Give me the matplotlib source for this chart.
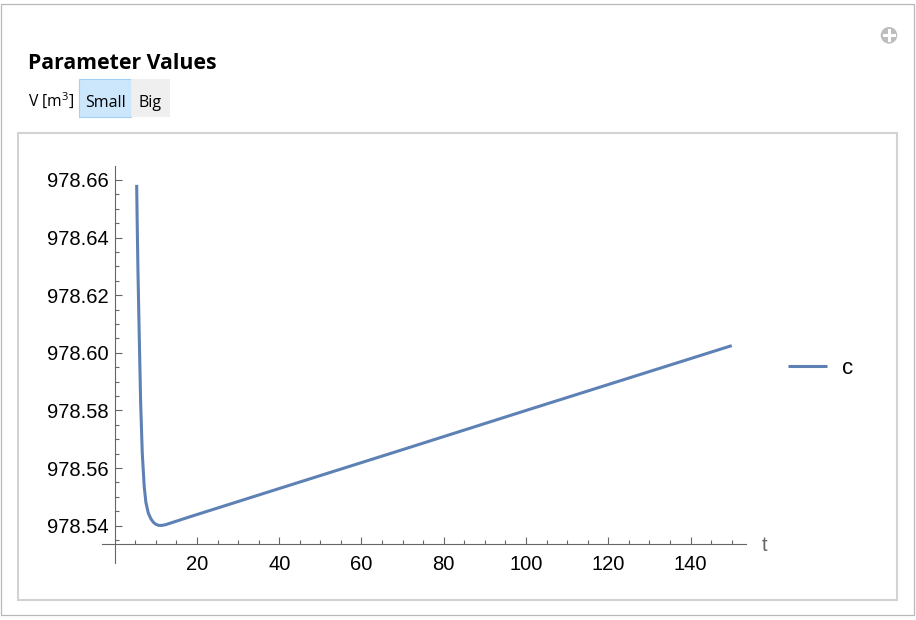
import numpy as np
import matplotlib
matplotlib.use("Agg")
import matplotlib.pyplot as plt
from matplotlib.patches import Rectangle, Circle
from matplotlib.lines import Line2D
from matplotlib.ticker import FixedLocator, FormatStrFormatter

plt.rcParams['font.family'] = ['Liberation Sans', 'DejaVu Sans']
plt.rcParams['mathtext.fontset'] = 'custom'
plt.rcParams['mathtext.rm'] = 'Open Sans'

# data
t = [5.35, 5.5, 5.66, 5.98, 6.32, 6.71, 7.19, 7.6, 8.17, 8.8, 9.4, 10.0,
     10.7, 11.5, 12.5, 14, 18.3, 40, 70, 100, 130, 150]
c = [978.6583, 978.6430, 978.6288, 978.6056, 978.5826, 978.5652, 978.5535,
     978.5480, 978.5444, 978.5424, 978.5412, 978.5405, 978.5401, 978.5401,
     978.5404, 978.5411, 978.5431, 978.5529, 978.5664, 978.5800, 978.5935,
     978.6025]
xticks = [20, 40, 60, 80, 100, 120, 140]
yticks = [978.54, 978.56, 978.58, 978.60, 978.62, 978.64, 978.66]
series_name = "c"
control_label = r"V [m$^{3}$]"
choices = ["Small", "Big"]

W, H = 916, 620
fig = plt.figure(figsize=(W / 100, H / 100), dpi=100)
px = fig.dpi_scale_trans


def P(x, y):
    # pixel (from top-left) -> inches
    return x / 100, (H - y) / 100


# outer frame and plot panel
x0, y0 = P(1, 615)
fig.add_artist(Rectangle((x0, y0), 913 / 100, 611 / 100, transform=px,
                         fill=False, ec='#b8b8b8', lw=0.9))
x0, y0 = P(17.5, 599.5)
fig.add_artist(Rectangle((x0, y0), 879.5 / 100, 466.5 / 100, transform=px,
                         fill=False, ec='#d2d2d2', lw=1.5))

# plus icon
fig.add_artist(Circle(P(889, 35.3), 0.083, transform=px, color='#bdbdbd', lw=0))
fig.add_artist(Line2D([8.84, 8.94], [P(0, 35.3)[1]] * 2, transform=px,
                      color='white', lw=2.2))
fig.add_artist(Line2D([8.89, 8.89], [P(0, 30.3)[1], P(0, 40.3)[1]], transform=px,
                      color='white', lw=2.2))

# title and controls
fig.text(*P(28, 69.3), "Parameter Values", transform=px, family='Open Sans',
         weight='bold', fontsize=15.3, va='baseline', ha='left')
fig.text(*P(28, 106.7), control_label, transform=px, family='Open Sans',
         fontsize=11.3, va='baseline', ha='left')
x0, y0 = P(79.3, 117.3)
fig.add_artist(Rectangle((x0, y0), 51.7 / 100, 38.3 / 100, transform=px,
                         fc='#cce7fc', ec='#a2d1f5', lw=0.8))
x0, y0 = P(131, 117.3)
fig.add_artist(Rectangle((x0, y0), 39 / 100, 38.3 / 100, transform=px,
                         fc='#efefef', ec='none'))
fig.text(*P(105.2, 106.7), choices[0], transform=px, family='Open Sans',
         fontsize=11.5, va='baseline', ha='center')
fig.text(*P(150.5, 106.7), choices[1], transform=px, family='Open Sans',
         fontsize=11.5, va='baseline', ha='center')

# plot axes
ax = fig.add_axes([101.7 / W, (H - 563) / H, 644 / W, 397 / H])
ax.patch.set_alpha(0)
ax.plot(t, c, color='#5e81b5', lw=2.2, label=series_name, solid_capstyle='butt')
ax.set_xlim(-3.15, 153.4)
ax.set_ylim(978.52705, 978.66485)

for s in ['top', 'right']:
    ax.spines[s].set_visible(False)
ax.spines['left'].set_position(('data', 0))
ax.spines['bottom'].set_position(('data', 978.5336))
for s in ['left', 'bottom']:
    ax.spines[s].set_color('#666666')
    ax.spines[s].set_linewidth(0.8)

ax.set_xticks(xticks)
ax.xaxis.set_minor_locator(FixedLocator([v for v in range(5, 155, 5) if v % 20]))
ax.set_yticks(yticks)
ax.yaxis.set_major_formatter(FormatStrFormatter('%.2f'))
ax.yaxis.set_minor_locator(FixedLocator(
    [978.535 + 0.005 * i for i in range(26) if i % 4 != 1]))
ax.tick_params(which='both', direction='in', color='#666666', width=0.8,
               labelsize=14.5, labelcolor='black')
ax.tick_params(which='major', length=5)
ax.tick_params(which='minor', length=2.9)
ax.tick_params(axis='y', pad=4.3)
ax.tick_params(axis='x', pad=7.5)

fig.text(*P(762, 551), "t", transform=px, fontsize=14.5, color='#666666',
         va='baseline', ha='left')

ax.legend(loc='center left', bbox_to_anchor=(788.3 / W, 1 - 368 / H),
          bbox_transform=fig.transFigure, frameon=False, borderpad=0,
          borderaxespad=0, fontsize=16, handlelength=1.73, handletextpad=0.68)

fig.savefig("out.png", dpi=100)
